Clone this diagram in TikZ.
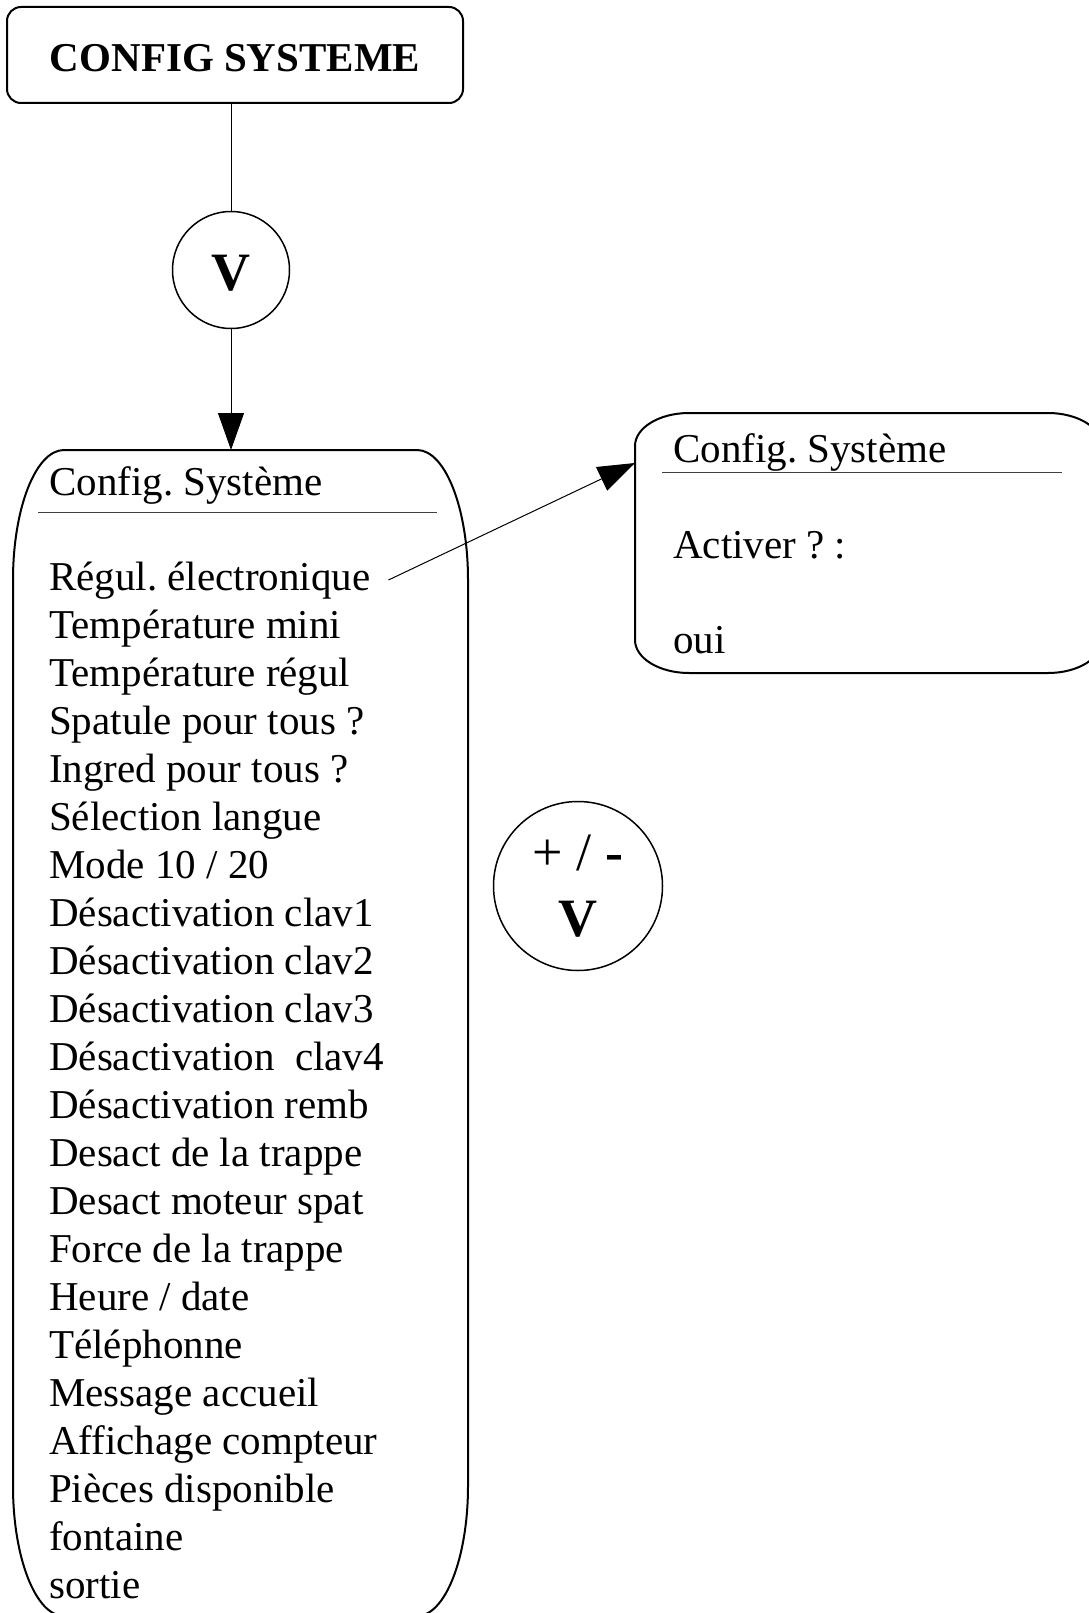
\documentclass[tikz,border=0pt]{standalone}
\usepackage{fontspec}
\setmainfont{Liberation Serif}
\usetikzlibrary{arrows.meta}
\frenchspacing
\begin{document}
\frenchspacing
\begin{tikzpicture}[x=1pt,y=-1pt,
  outline/.style={draw=black,line width=2pt},
  sepline/.style={draw=black!75,line width=1pt},
  conn/.style={draw=black,line width=1pt},
  tip/.style={-{Triangle[length=37pt,width=26pt]}},
  txt/.style={anchor=base west,inner sep=0pt,font=\fontsize{41}{48}\selectfont},
  bigtxt/.style={font=\fontsize{54}{66}\selectfont},
  roundnode/.style={circle,draw=black,line width=1.5pt,inner sep=0pt}]
\fill[white] (0,0) rectangle (1088,1613);
\useasboundingbox (0,0) rectangle (1088,1613);

% top title box
\node[draw=black,line width=2pt,rounded corners=14pt,minimum width=456pt,minimum height=96pt,
      inner sep=0pt,text height=34pt,text depth=0pt,
      font=\fontsize{41}{48}\selectfont\bfseries] (top) at (235,55) {CONFIG SYSTEME};

% first V circle
\node[roundnode,minimum size=117pt,font=\fontsize{54}{66}\selectfont\bfseries,
      text height=40pt,text depth=0pt] (c1) at (231,270) {V};

% big list box outline
\path[outline] (64,450) -- (417,450) .. controls (445.2,450) and (468,508.2) .. (468,580)
  -- (468,1486) .. controls (468,1557.8) and (445.2,1616) .. (417,1616)
  -- (64,1616) .. controls (35.8,1616) and (13,1557.8) .. (13,1486)
  -- (13,580) .. controls (13,508.2) and (35.8,450) .. (64,450) -- cycle;
\coordinate (bigtop) at (231,450);
\node[txt] (bighead) at (49,495) {Config. Système};
\path[sepline] (38,512) -- (437,512);

\foreach \t [count=\i] in {Régul. électronique,Température mini,Température régul,
  Spatule pour tous ?,Ingred pour tous ?,Sélection langue,Mode 10 / 20,
  Désactivation clav1,Désactivation clav2,Désactivation clav3,Désactivation\ \ clav4,
  Désactivation remb,Desact de la trappe,Desact moteur spat,Force de la trappe,
  Heure / date,Téléphonne,Message accueil,Affichage compteur,Pièces disponible,
  fontaine,sortie}
  \node[txt] (item\i) at (49,{590+48*(\i-1)}) {\t};

% right box
\path[outline] (689,413) -- (1048,413) .. controls (1077.8,413) and (1102,427.8) .. (1102,446)
  -- (1102,640) .. controls (1102,658.2) and (1077.8,673) .. (1048,673)
  -- (689,673) .. controls (659.2,673) and (635,658.2) .. (635,640)
  -- (635,446) .. controls (635,427.8) and (659.2,413) .. (689,413) -- cycle;
\coordinate (rin) at (635,463);
\node[txt] (rhead) at (673,462) {Config. Système};
\path[sepline] (662,472) -- (1062,472);
\node[txt] (ract) at (673,558) {Activer ? :};
\node[txt] (roui) at (673,653) {oui};

% second circle
\node[roundnode,minimum size=169pt,align=center,bigtxt] (c2) at (578,886)
  {+ / \textbf{-}\\\textbf{V}};

% connectors
\draw[conn] (c1.north |- top.south) -- (c1.north);
\draw[conn,tip] (c1.south) -- (bigtop);
\coordinate (rstart) at ([xshift=18pt,yshift=10pt]item1.base east);
\draw[conn,tip] (rstart) -- (rin);
\end{tikzpicture}
\end{document}
